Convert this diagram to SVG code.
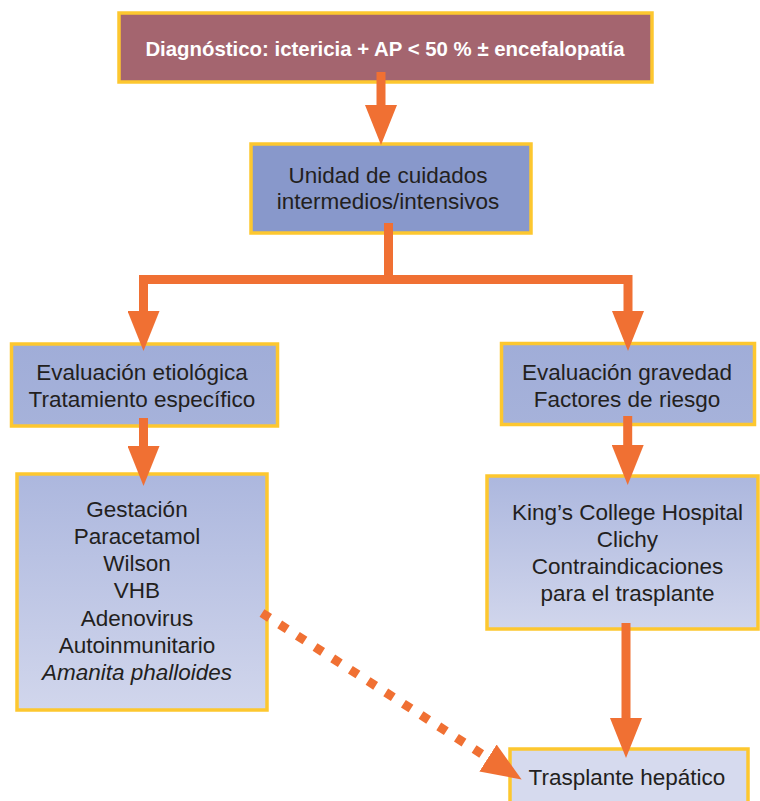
<svg xmlns="http://www.w3.org/2000/svg" width="760" height="801" viewBox="0 0 760 801">
  <style>
    .box { stroke: #FDC72F; stroke-width: 3.5; }
    .t { font-family: "Liberation Sans", Arial, sans-serif; font-size: 22.5px; fill: #231F20; text-anchor: middle; }
    .tb { font-family: "Liberation Sans", Arial, sans-serif; font-size: 20.4px; font-weight: bold; fill: #FFFFFF; text-anchor: middle; }
    .con { fill: none; stroke: #F07033; stroke-width: 9; stroke-linejoin: miter; marker-end: url(#head); }
    .dash { stroke-dasharray: 9 12; }
  </style>
  <defs>
    <linearGradient id="gList" x1="0" y1="0" x2="0" y2="1">
      <stop offset="0" stop-color="#ACB7DE"/>
      <stop offset="1" stop-color="#D1D6EC"/>
    </linearGradient>
    <linearGradient id="gEval" x1="0" y1="0" x2="0" y2="1">
      <stop offset="0" stop-color="#A0ADD8"/>
      <stop offset="1" stop-color="#A6B2DA"/>
    </linearGradient>
    <marker id="head" markerUnits="userSpaceOnUse" markerWidth="40" markerHeight="32" refX="0" refY="16" orient="auto">
      <path d="M0,0 L40,16 L0,32 Z" fill="#F07033"/>
    </marker>
  </defs>

  <g id="diagnostico">
    <rect class="box" x="119" y="13" width="533" height="69" fill="#A4656F"/>
    <text class="tb" x="385" y="56">Diagnóstico: ictericia + AP &lt; 50 % ± encefalopatía</text>
  </g>

  <g id="unidad">
    <rect class="box" x="251" y="144" width="280" height="89" fill="#8898CB"/>
    <text class="t" x="388" y="183">Unidad de cuidados</text>
    <text class="t" x="388" y="209">intermedios/intensivos</text>
  </g>

  <g id="etiologica">
    <rect class="box" x="11.5" y="344" width="266" height="82" fill="url(#gEval)"/>
    <text class="t" x="142" y="380">Evaluación etiológica</text>
    <text class="t" x="142" y="407">Tratamiento específico</text>
  </g>

  <g id="gravedad">
    <rect class="box" x="501.5" y="343.5" width="253" height="81" fill="url(#gEval)"/>
    <text class="t" x="627" y="380">Evaluación gravedad</text>
    <text class="t" x="627" y="407">Factores de riesgo</text>
  </g>

  <g id="causas">
    <rect class="box" x="17" y="474" width="250" height="236" fill="url(#gList)"/>
    <text class="t" x="137" y="517">Gestación</text>
    <text class="t" x="137" y="544">Paracetamol</text>
    <text class="t" x="137" y="571">Wilson</text>
    <text class="t" x="137" y="598">VHB</text>
    <text class="t" x="137" y="626">Adenovirus</text>
    <text class="t" x="137" y="653">Autoinmunitario</text>
    <text class="t" x="137" y="680" font-style="italic">Amanita phalloides</text>
  </g>

  <g id="criterios">
    <rect class="box" x="487" y="476" width="271" height="153" fill="url(#gList)"/>
    <text class="t" x="627.5" y="520">King’s College Hospital</text>
    <text class="t" x="627.5" y="547">Clichy</text>
    <text class="t" x="627.5" y="574">Contraindicaciones</text>
    <text class="t" x="627.5" y="601">para el trasplante</text>
  </g>

  <g id="trasplante">
    <rect class="box" x="510" y="749" width="238" height="70" fill="#D6DAEE"/>
    <text class="t" x="627" y="785">Trasplante hepático</text>
  </g>

  <g id="connectors">
    <path class="con" d="M381,72 V105"/>
    <path class="con" d="M388.5,223 V279.5 H143.5 V311"/>
    <path class="con" d="M388.5,223 V279.5 H628 V311"/>
    <path class="con" d="M143.5,418 V446"/>
    <path class="con" d="M627.7,416 V445"/>
    <path class="con" d="M626,623 V718"/>
    <path class="con dash" d="M262,613 L488,758"/>
  </g>
</svg>
